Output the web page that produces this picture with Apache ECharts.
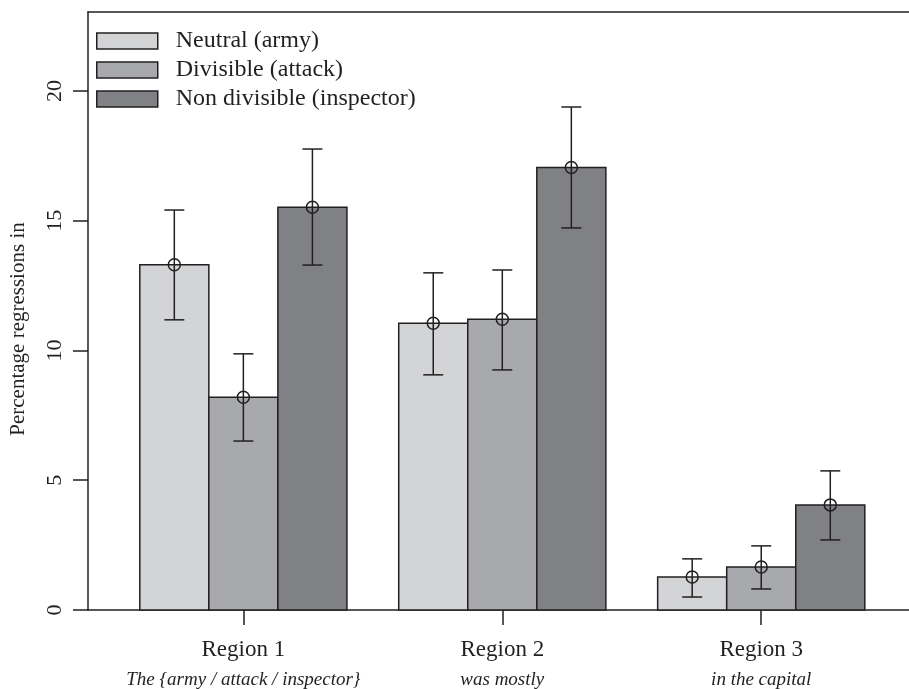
<!DOCTYPE html>
<html>
<head>
<meta charset="utf-8">
<script src="https://cdn.jsdelivr.net/npm/echarts@6/dist/echarts.min.js"></script>
<style>
html,body{margin:0;padding:0;background:#fff;}
#chart{width:909px;height:689px;}
</style>
</head>
<body>
<div id="chart"></div>
<script>
// data
var regions = ["Region 1", "Region 2", "Region 3"];
var subLabels = ["The {army / attack / inspector}", "was mostly", "in the capital"];
var conditions = ["Neutral (army)", "Divisible (attack)", "Non divisible (inspector)"];
var colors = ["#d3d4d6", "#a8a9ad", "#808185"];
// means per condition, one value per region
var neutralMean = [13.3, 11.05, 1.27];
var divisibleMean = [8.2, 11.2, 1.66];
var nonDivMean = [15.52, 17.05, 4.05];
// error bar low / high
var neutralLow = [11.18, 9.06, 0.5];
var neutralHigh = [15.41, 12.99, 1.97];
var divisibleLow = [6.51, 9.25, 0.81];
var divisibleHigh = [9.87, 13.1, 2.47];
var nonDivLow = [13.29, 14.72, 2.7];
var nonDivHigh = [17.76, 19.38, 5.36];
var yTicks = [0, 5, 10, 15, 20];

var lineColor = "#231f20";
var font = "Liberation Serif";
var space = 0.75; // gap between groups, in bar widths
var groupCenters = [];
for (var g = 0; g < regions.length; g++) {
	groupCenters.push(space + g * (3 + space) + 1.5);
}

function makeData(means, lows, highs, k){
	var d = [];
	for (var g = 0; g < means.length; g++) {
		var left = space + g * (3 + space) + k;
		d.push([left, means[g], lows[g], highs[g]]);
	}
	return d;
}

function renderBar(params, api){
	var left = api.value(0), mean = api.value(1), lo = api.value(2), hi = api.value(3);
	var p0 = api.coord([left, 0]);
	var p1 = api.coord([left + 1, mean]);
	var cx = api.coord([left + 0.5, mean]);
	var pLo = api.coord([left + 0.5, lo]);
	var pHi = api.coord([left + 0.5, hi]);
	var cap = 10;
	var st = {stroke: lineColor, lineWidth: 1.5, fill: null};
	return {
		type: 'group',
		children: [
			{type: 'rect', shape: {x: p0[0], y: p1[1], width: p1[0] - p0[0], height: p0[1] - p1[1]},
				style: {fill: api.visual('color'), stroke: lineColor, lineWidth: 1.5}},
			{type: 'line', shape: {x1: pLo[0], y1: pLo[1], x2: pHi[0], y2: pHi[1]}, style: st},
			{type: 'line', shape: {x1: pLo[0] - cap, y1: pLo[1], x2: pLo[0] + cap, y2: pLo[1]}, style: st},
			{type: 'line', shape: {x1: pHi[0] - cap, y1: pHi[1], x2: pHi[0] + cap, y2: pHi[1]}, style: st},
			{type: 'circle', shape: {cx: cx[0], cy: cx[1], r: 6}, style: st}
		]
	};
}

var chart = echarts.init(document.getElementById("chart"));
var allData = [
	makeData(neutralMean, neutralLow, neutralHigh, 0),
	makeData(divisibleMean, divisibleLow, divisibleHigh, 1),
	makeData(nonDivMean, nonDivLow, nonDivHigh, 2)
];
var series = [];
for (var k = 0; k < conditions.length; k++) {
	series.push({
		name: conditions[k],
		type: 'custom',
		renderItem: renderBar,
		itemStyle: {color: colors[k], borderColor: lineColor, borderWidth: 1.5},
		encode: {x: 0, y: 1},
		data: allData[k],
		clip: false
	});
}

var option = {
	animation: false,
	backgroundColor: '#fff',
	grid: {left: 88, right: 0, top: 12, bottom: 79},
	legend: {
		orient: 'vertical',
		left: 96,
		top: 29,
		padding: 0,
		itemWidth: 61,
		itemHeight: 16,
		itemGap: 5,
		icon: 'rect',
		textStyle: {fontFamily: font, fontSize: 24, color: lineColor, padding: [0, 0, 0, 13]},
		data: conditions.map(function(c, i){
			return {name: c, itemStyle: {color: colors[i], borderColor: lineColor, borderWidth: 1.5}};
		})
	},
	xAxis: [{
		type: 'value', min: 0, max: 11.89, position: 'bottom',
		splitLine: {show: false},
		axisLine: {show: true, onZero: false, lineStyle: {color: lineColor, width: 1.5}},
		axisTick: {show: true, length: 15, customValues: groupCenters, lineStyle: {color: lineColor, width: 1.5}},
		axisLabel: {customValues: groupCenters, margin: 28, fontFamily: font, fontSize: 23, color: lineColor,
			formatter: function(v){ var i = groupCenters.indexOf(v); return i >= 0 ? regions[i] : ''; }}
	}, {
		type: 'value', min: 0, max: 11.89, position: 'bottom',
		splitLine: {show: false}, axisLine: {show: false}, axisTick: {show: false},
		axisLabel: {customValues: groupCenters, margin: 60, fontFamily: font, fontSize: 19, fontStyle: 'italic', color: lineColor,
			formatter: function(v){ var i = groupCenters.indexOf(v); return i >= 0 ? subLabels[i] : ''; }}
	}, {
		type: 'value', min: 0, max: 11.89, position: 'top',
		splitLine: {show: false}, axisTick: {show: false}, axisLabel: {show: false},
		axisLine: {show: true, onZero: false, lineStyle: {color: lineColor, width: 1.5}}
	}],
	yAxis: {
		type: 'value', min: 0, max: 23.04,
		splitLine: {show: false},
		axisLine: {show: true, lineStyle: {color: lineColor, width: 1.5}},
		axisTick: {show: true, length: 15, customValues: yTicks, lineStyle: {color: lineColor, width: 1.5}},
		axisLabel: {customValues: yTicks, rotate: 90, margin: 22, fontFamily: font, fontSize: 22, color: lineColor}
	},
	graphic: [{
		type: 'text', x: 18, y: 329, rotation: Math.PI / 2,
		style: {text: 'Percentage regressions in', font: '21px "Liberation Serif"', fill: lineColor,
			textAlign: 'center', textVerticalAlign: 'middle'}
	}],
	series: series
};
chart.setOption(option);
</script>
</body>
</html>
